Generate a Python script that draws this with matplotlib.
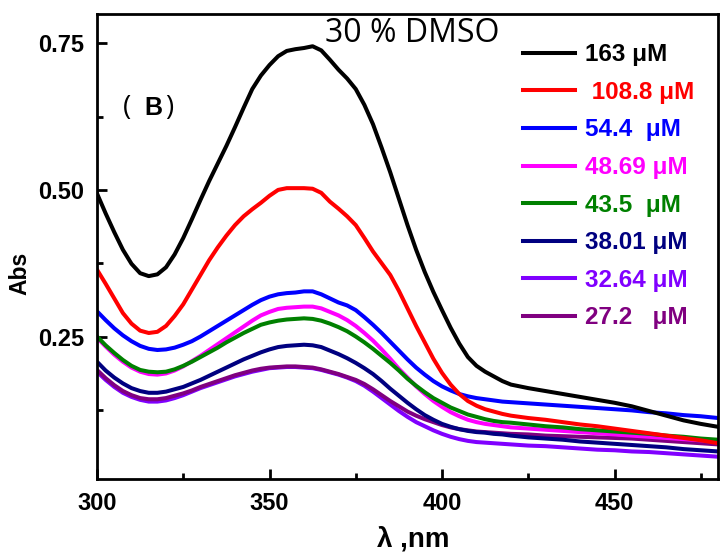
import matplotlib
matplotlib.use("Agg")
import matplotlib.pyplot as plt

wl = [300, 302.5, 305, 307.5, 310, 312.5, 315, 317.5, 320, 322.5, 325, 327.5,
      330, 332.5, 335, 337.5, 340, 342.5, 345, 347.5, 350, 352.5, 355, 357.5,
      360, 362.5, 365, 367.5, 370, 372.5, 375, 377.5, 380, 382.5, 385, 387.5,
      390, 392.5, 395, 397.5, 400, 402.5, 405, 407.5, 410, 412.5, 415, 417.5,
      420, 425, 430, 435, 440, 445, 450, 455, 460, 465, 470, 475, 480]

c163 = [0.494, 0.46, 0.428, 0.398, 0.374, 0.358, 0.353, 0.356, 0.368, 0.39,
        0.418, 0.45, 0.483, 0.515, 0.545, 0.575, 0.607, 0.64, 0.672, 0.695,
        0.713, 0.728, 0.737, 0.74, 0.742, 0.745, 0.738, 0.722, 0.705, 0.69,
        0.672, 0.645, 0.612, 0.572, 0.53, 0.485, 0.44, 0.398, 0.36, 0.326,
        0.295, 0.265, 0.238, 0.215, 0.2, 0.19, 0.182, 0.174, 0.168, 0.162,
        0.157, 0.152, 0.147, 0.142, 0.137, 0.131, 0.123, 0.115, 0.107, 0.101, 0.096]
c108 = [0.364, 0.34, 0.315, 0.29, 0.272, 0.26, 0.256, 0.258, 0.268, 0.285,
        0.305, 0.33, 0.355, 0.38, 0.402, 0.422, 0.44, 0.455, 0.467, 0.478,
        0.49, 0.5, 0.503, 0.503, 0.503, 0.502, 0.495, 0.48, 0.468, 0.455,
        0.44, 0.418, 0.395, 0.375, 0.355, 0.328, 0.298, 0.268, 0.24, 0.212,
        0.188, 0.168, 0.152, 0.14, 0.132, 0.126, 0.122, 0.118, 0.115, 0.111,
        0.108, 0.104, 0.100, 0.097, 0.093, 0.089, 0.085, 0.081, 0.077, 0.073, 0.068]
c54 = [0.293, 0.278, 0.264, 0.252, 0.242, 0.234, 0.229, 0.227, 0.228, 0.231,
       0.236, 0.242, 0.25, 0.259, 0.268, 0.277, 0.286, 0.295, 0.304, 0.312,
       0.318, 0.322, 0.324, 0.325, 0.327, 0.327, 0.322, 0.315, 0.308, 0.303,
       0.295, 0.283, 0.27, 0.256, 0.241, 0.226, 0.211, 0.197, 0.185, 0.174,
       0.165, 0.158, 0.152, 0.148, 0.145, 0.143, 0.141, 0.139, 0.138, 0.136,
       0.134, 0.132, 0.130, 0.128, 0.126, 0.124, 0.121, 0.119, 0.116, 0.114, 0.111]
c48 = [0.248, 0.233, 0.219, 0.207, 0.197, 0.19, 0.186, 0.185, 0.187, 0.192,
       0.199, 0.208, 0.217, 0.227, 0.237, 0.247, 0.257, 0.267, 0.277, 0.286,
       0.292, 0.297, 0.299, 0.3, 0.301, 0.301, 0.298, 0.292, 0.286, 0.278,
       0.268, 0.256, 0.243, 0.228, 0.212, 0.195, 0.18, 0.165, 0.152, 0.14,
       0.13, 0.121, 0.114, 0.108, 0.104, 0.101, 0.099, 0.097, 0.095, 0.093,
       0.091, 0.089, 0.087, 0.085, 0.083, 0.081, 0.079, 0.077, 0.075, 0.073, 0.071]
c43 = [0.25, 0.235, 0.222, 0.21, 0.2, 0.193, 0.19, 0.189, 0.19, 0.194,
       0.2, 0.207, 0.215, 0.223, 0.231, 0.24, 0.248, 0.256, 0.263, 0.27,
       0.274, 0.277, 0.279, 0.28, 0.281, 0.28, 0.277, 0.272, 0.266, 0.259,
       0.25, 0.24, 0.229, 0.217, 0.205, 0.192, 0.178, 0.166, 0.155, 0.145,
       0.137, 0.129, 0.123, 0.117, 0.113, 0.109, 0.106, 0.104, 0.103, 0.1,
       0.097, 0.095, 0.092, 0.09, 0.088, 0.086, 0.084, 0.081, 0.079, 0.076, 0.074]
c38 = [0.207, 0.192, 0.18, 0.17, 0.162, 0.157, 0.154, 0.154, 0.156, 0.16,
       0.164, 0.17, 0.176, 0.183, 0.19, 0.197, 0.204, 0.211, 0.217, 0.223,
       0.228, 0.232, 0.234, 0.235, 0.236, 0.235, 0.232, 0.226, 0.22, 0.213,
       0.205, 0.196, 0.186, 0.174, 0.161, 0.149, 0.137, 0.126, 0.116, 0.108,
       0.101, 0.096, 0.092, 0.089, 0.087, 0.086, 0.084, 0.083, 0.081, 0.078,
       0.076, 0.074, 0.071, 0.069, 0.067, 0.065, 0.063, 0.061, 0.058, 0.056, 0.054]
c32 = [0.19, 0.176, 0.164, 0.154, 0.147, 0.142, 0.139, 0.139, 0.141, 0.145,
       0.15, 0.156, 0.162, 0.167, 0.172, 0.177, 0.182, 0.186, 0.19, 0.193,
       0.196, 0.197, 0.198, 0.198, 0.197, 0.196, 0.193, 0.189, 0.185, 0.18,
       0.174, 0.166, 0.156, 0.145, 0.134, 0.123, 0.113, 0.104, 0.097, 0.09,
       0.084, 0.079, 0.075, 0.072, 0.07, 0.069, 0.068, 0.067, 0.066, 0.064,
       0.063, 0.061, 0.059, 0.057, 0.056, 0.054, 0.053, 0.051, 0.049, 0.047, 0.045]
c27 = [0.193, 0.179, 0.167, 0.157, 0.15, 0.145, 0.143, 0.143, 0.145, 0.149,
       0.153, 0.158, 0.164, 0.169, 0.174, 0.179, 0.184, 0.188, 0.192, 0.195,
       0.197, 0.198, 0.199, 0.199, 0.198, 0.197, 0.194, 0.19, 0.186, 0.181,
       0.176, 0.169, 0.16, 0.15, 0.14, 0.131, 0.122, 0.115, 0.109, 0.104,
       0.099, 0.095, 0.092, 0.09, 0.088, 0.087, 0.086, 0.085, 0.084, 0.083,
       0.081, 0.08, 0.079, 0.078, 0.077, 0.076, 0.074, 0.072, 0.07, 0.068, 0.066]

series = [c163, c108, c54, c48, c43, c38, c32, c27]
labels = ["163 \u03bcM", " 108.8 \u03bcM", "54.4  \u03bcM", "48.69 \u03bcM",
          "43.5  \u03bcM", "38.01 \u03bcM", "32.64 \u03bcM", "27.2   \u03bcM"]
colors = ["#000000", "#ff0000", "#0000ff", "#ff00ff", "#008000", "#000080",
          "#8000ff", "#800080"]

xticks = [300, 350, 400, 450]
yticks = [0.25, 0.50, 0.75]
ytick_labels = ["0.25", "0.50", "0.75"]

plt.rcParams['font.family'] = ['Liberation Sans', 'DejaVu Sans']

fig = plt.figure(figsize=(7.2, 5.55), dpi=100)
ax = fig.add_axes([97/720, 1-479/555, (718-97)/720, (479-14)/555])

order = [6, 7, 5, 3, 4, 2, 1, 0]
handles = {}
for i in order:
    ln, = ax.plot(wl, series[i], color=colors[i], lw=2.9, label=labels[i],
                  solid_joinstyle='round')
    handles[i] = ln

ax.set_xlim(300, 480)
ax.set_ylim(0.007, 0.80)
ax.set_xticks(xticks)
ax.set_xticks([325, 375, 425, 475], minor=True)
ax.set_yticks(yticks)
ax.set_yticklabels(ytick_labels)
ax.set_yticks([0.125, 0.375, 0.625], minor=True)
ax.tick_params(which='both', direction='in', width=2)
ax.tick_params(which='major', length=7, labelsize=17, pad=9)
ax.tick_params(which='minor', length=4)
for lab in ax.get_xticklabels() + ax.get_yticklabels():
    lab.set_fontweight('bold')
for s in ax.spines.values():
    s.set_linewidth(2)

ax.set_xlabel("\u03bb ,nm", fontsize=20, fontweight='bold')
ax.xaxis.label.set_va('center')
ax.xaxis.set_label_coords(0.51, -0.131)
ax.set_ylabel("Abs", fontsize=16.5, fontweight='bold')
ax.yaxis.label.set_va('center')
ax.yaxis.set_label_coords(-0.124, 0.443)

ax.text(366.0, 0.766, "30 % DMSO", fontsize=23, family=['Open Sans', 'DejaVu Sans'],
        va='center', ha='left')
ax.text(0.042, 0.798, "(", fontsize=20, family=['Open Sans', 'DejaVu Sans'],
        transform=ax.transAxes, va='center', ha='left')
ax.text(0.077, 0.798, "B", fontsize=18, fontweight='bold',
        transform=ax.transAxes, va='center', ha='left')
ax.text(0.1095, 0.798, ")", fontsize=20, family=['Open Sans', 'DejaVu Sans'],
        transform=ax.transAxes, va='center', ha='left')

leg = ax.legend([handles[i] for i in range(8)], labels, loc='upper left',
                bbox_to_anchor=(0.686, 0.937), frameon=False,
                labelcolor=colors, prop={'weight': 'bold', 'size': 17.5},
                handlelength=2.15, handletextpad=0.4, labelspacing=0.6,
                borderaxespad=0, borderpad=0)

fig.savefig("out.png", dpi=100)
